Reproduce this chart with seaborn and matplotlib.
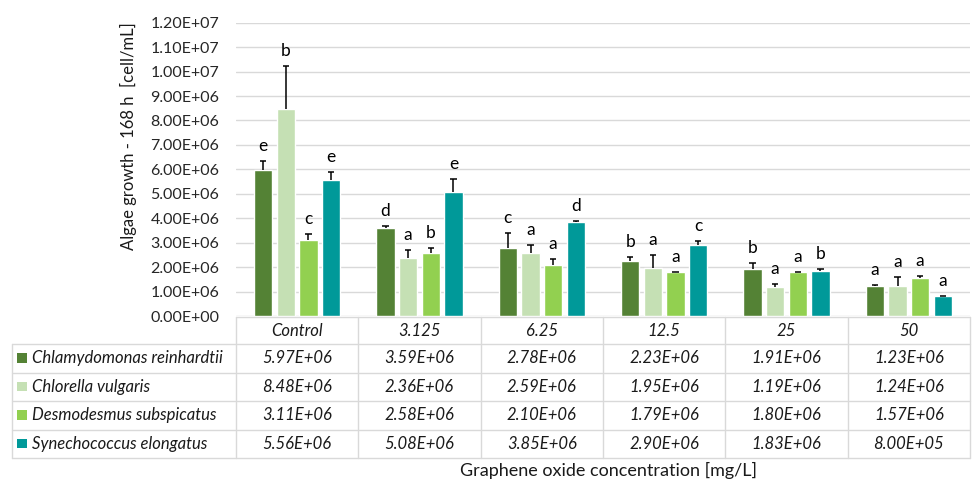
import matplotlib
matplotlib.use("Agg")
import matplotlib.pyplot as plt
from matplotlib.lines import Line2D
from matplotlib.patches import Rectangle
import seaborn as sns
import pandas as pd

# ---- data -------------------------------------------------------------
concentrations = ["Control", "3.125", "6.25", "12.5", "25", "50"]
species = ["Chlamydomonas reinhardtii", "Chlorella vulgaris",
           "Desmodesmus subspicatus", "Synechococcus elongatus"]

chlamydomonas = [5.97e6, 3.59e6, 2.78e6, 2.23e6, 1.91e6, 1.23e6]
chlorella = [8.48e6, 2.36e6, 2.59e6, 1.95e6, 1.19e6, 1.24e6]
desmodesmus = [3.11e6, 2.58e6, 2.10e6, 1.79e6, 1.80e6, 1.57e6]
synechococcus = [5.56e6, 5.08e6, 3.85e6, 2.90e6, 1.83e6, 8.00e5]

chlamydomonas_sd = [0.36e6, 0.08e6, 0.62e6, 0.20e6, 0.25e6, 0.03e6]
chlorella_sd = [1.75e6, 0.33e6, 0.32e6, 0.53e6, 0.12e6, 0.34e6]
desmodesmus_sd = [0.25e6, 0.20e6, 0.24e6, 0.02e6, 0.02e6, 0.05e6]
synechococcus_sd = [0.33e6, 0.54e6, 0.03e6, 0.16e6, 0.11e6, 0.03e6]

chlamydomonas_grp = ["e", "d", "c", "b", "b", "a"]
chlorella_grp = ["b", "a", "a", "a", "a", "a"]
desmodesmus_grp = ["c", "b", "a", "a", "a", "a"]
synechococcus_grp = ["e", "e", "d", "c", "b", "a"]

y_ticks = [i * 1e6 for i in range(13)]

means = [chlamydomonas, chlorella, desmodesmus, synechococcus]
sds = [chlamydomonas_sd, chlorella_sd, desmodesmus_sd, synechococcus_sd]
groups = [chlamydomonas_grp, chlorella_grp, desmodesmus_grp, synechococcus_grp]
colors = ["#548235", "#C5E0B4", "#92D050", "#009999"]
palette = dict(zip(species, colors))

df = pd.DataFrame(
    [(c, s, v) for s, vals in zip(species, means) for c, v in zip(concentrations, vals)],
    columns=["conc", "species", "value"],
)

# ---- figure -----------------------------------------------------------
sns.set_theme(style="white")
plt.rcParams["font.family"] = ["Lato", "DejaVu Sans"]

W, H = 973, 483
fig = plt.figure(figsize=(W / 100, H / 100), dpi=100)


def fx(px):
    return px / W


def fy(py):
    return 1 - py / H


ax_left, ax_right, ax_top, ax_bottom = 236, 970, 22.7, 316
ax = fig.add_axes([fx(ax_left), fy(ax_bottom), fx(ax_right - ax_left),
                   (ax_bottom - ax_top) / H])

sns.barplot(data=df, x="conc", y="value", hue="species", order=concentrations,
            hue_order=species, palette=palette, width=0.74, gap=0.2,
            errorbar=None, legend=False, saturation=1, ax=ax)

txt_c = "#1a1a1a"
ax.set_ylim(0, 1.2e7)
ax.set_xlim(-0.5, len(concentrations) - 0.5)
ax.set_yticks(y_ticks)
ax.set_yticklabels([f"{t:.2E}" for t in y_ticks], fontsize=11.5, color="#262626")
ax.tick_params(axis="y", length=0, pad=12)
ax.set_xticks([])
ax.set_xlabel("")
ax.set_ylabel("")
ax.grid(axis="y", color="#D9D9D9", linewidth=1)
ax.set_axisbelow(True)
for sp in ax.spines.values():
    sp.set_visible(False)

# one-sided error bars (upper only) and significance letters
cap_half = 0.025
for cont, sd, grp in zip(ax.containers, sds, groups):
    for bar, e, g in zip(cont, sd, grp):
        xc = bar.get_x() + bar.get_width() / 2
        h = bar.get_height()
        ax.vlines(xc, h, h + e, color="black", lw=1.1, zorder=3)
        ax.hlines(h + e, xc - cap_half, xc + cap_half, color="black", lw=1.1, zorder=3)
        ax.annotate(g, (xc, h + e), xytext=(0, 5), textcoords="offset points",
                    ha="center", va="bottom", fontsize=12.5, color="black")

# ---- data table below the plot ---------------------------------------
line_c = "#D9D9D9"
table_left = 12
col_w = (ax_right - ax_left) / len(concentrations)
col_x = [ax_left + i * col_w for i in range(len(concentrations) + 1)]
row_y = [317, 344, 372.5, 401, 429.5, 458]


def hline(x0, x1, y):
    fig.add_artist(Line2D([fx(x0), fx(x1)], [fy(y), fy(y)], color=line_c, lw=1))


def vline(x, y0, y1):
    fig.add_artist(Line2D([fx(x), fx(x)], [fy(y0), fy(y1)], color=line_c, lw=1))


hline(ax_left, ax_right, row_y[0])
for y in row_y[1:]:
    hline(table_left, ax_right, y)
for x in col_x:
    vline(x, row_y[0], row_y[-1])
vline(table_left, row_y[1], row_y[-1])

for i, c in enumerate(concentrations):
    xc = (col_x[i] + col_x[i + 1]) / 2
    fig.text(fx(xc), fy((row_y[0] + row_y[1]) / 2), c, ha="center", va="center",
             style="italic", fontsize=12, color=txt_c)

for r, (s, vals, col) in enumerate(zip(species, means, colors)):
    yc = (row_y[r + 1] + row_y[r + 2]) / 2
    fig.add_artist(Rectangle((fx(17), fy(yc + 4.5)), fx(9.5), 9.5 / H,
                             facecolor=col, edgecolor="none"))
    fig.text(fx(32), fy(yc), s, ha="left", va="center", style="italic",
             fontsize=12, color=txt_c)
    for i, v in enumerate(vals):
        xc = (col_x[i] + col_x[i + 1]) / 2
        fig.text(fx(xc), fy(yc), f"{v:.2E}", ha="center", va="center",
                 style="italic", fontsize=12, color=txt_c)

fig.text(fx(609), fy(470), "Graphene oxide concentration [mg/L]", ha="center",
         va="center", fontsize=13, color=txt_c)
fig.text(fx(128), fy(136), "Algae growth - 168 h  [cell/mL]", ha="center",
         va="center", rotation=90, fontsize=12, color=txt_c)

fig.savefig("out.png", dpi=100, facecolor="white")
